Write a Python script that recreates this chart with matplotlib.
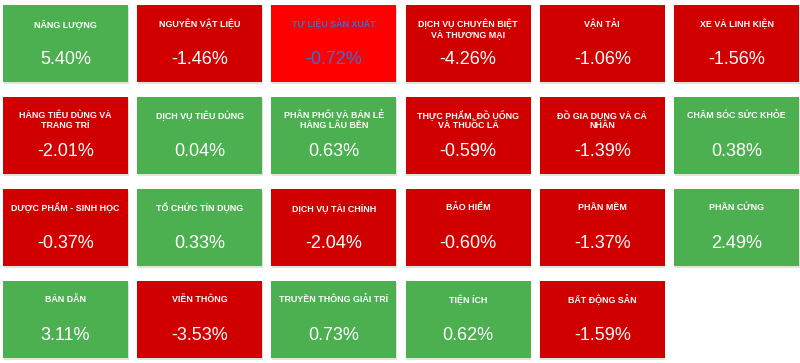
"""
Bản đồ nhiệt ngành — thay đổi % theo nhóm ngành (ô vuông xanh / đỏ).
"""

import matplotlib
matplotlib.use("Agg")

import matplotlib.pyplot as plt
from matplotlib.patches import Rectangle

plt.rcParams["font.family"] = ["Liberation Sans", "DejaVu Sans"]

SECTORS = [
    "NĂNG LƯỢNG", "NGUYÊN VẬT LIỆU", "TƯ LIỆU SẢN XUẤT",
    "DỊCH VỤ CHUYÊN BIỆT\nVÀ THƯƠNG MẠI", "VẬN TẢI", "XE VÀ LINH KIỆN",
    "HÀNG TIÊU DÙNG VÀ\nTRANG TRÍ", "DỊCH VỤ TIÊU DÙNG", "PHÂN PHỐI VÀ BÁN LẺ\nHÀNG LÂU BỀN",
    "THỰC PHẨM, ĐỒ UỐNG\nVÀ THUỐC LÁ", "ĐỒ GIA DỤNG VÀ CÁ\nNHÂN", "CHĂM SÓC SỨC KHỎE",
    "DƯỢC PHẨM - SINH HỌC", "TỔ CHỨC TÍN DỤNG", "DỊCH VỤ TÀI CHÍNH",
    "BẢO HIỂM", "PHẦN MỀM", "PHẦN CỨNG",
    "BÁN DẪN", "VIỄN THÔNG", "TRUYỀN THÔNG GIẢI TRÍ",
    "TIỆN ÍCH", "BẤT ĐỘNG SẢN",
]
CHANGES = [
    5.40, -1.46, -0.72, -4.26, -1.06, -1.56,
    -2.01, 0.04, 0.63, -0.59, -1.39, 0.38,
    -0.37, 0.33, -2.04, -0.60, -1.37, 2.49,
    3.11, -3.53, 0.73, 0.62, -1.59,
]
# ô đang được chọn (hover) trong ảnh gốc
HIGHLIGHT = 2

GREEN = "#4caf50"
RED = "#d10000"
HL_RED = "#ff0000"
HL_TEXT = "#3d6fd0"

N_COLS = 6
TILE_W, TILE_H = 125, 77
PITCH_X, PITCH_Y = 134.2, 92
X0, Y0 = 3, 5

fig = plt.figure(figsize=(8, 3.63), dpi=100)
ax = fig.add_axes([0, 0, 1, 1])
ax.set_xlim(0, 800)
ax.set_ylim(363, 0)
ax.axis("off")

for i, (name, chg) in enumerate(zip(SECTORS, CHANGES)):
    row, col = divmod(i, N_COLS)
    x = X0 + col * PITCH_X
    y = Y0 + row * PITCH_Y

    if i == HIGHLIGHT:
        face, txt = HL_RED, HL_TEXT
    else:
        face, txt = (GREEN if chg >= 0 else RED), "white"

    # ombre légère sous la tuile
    ax.add_patch(Rectangle((x + 0.5, y + 1.5), TILE_W, TILE_H, facecolor="#cfcfcf",
                           edgecolor="none", alpha=0.6, zorder=1))
    ax.add_patch(Rectangle((x, y), TILE_W, TILE_H, facecolor=face,
                           edgecolor="none", zorder=2))

    for k, line in enumerate(name.split("\n")):
        ax.text(x + TILE_W / 2, y + 19 + k * 10, line, ha="center", va="center",
                fontsize=6.4, fontweight="bold", color=txt, zorder=3)

    ax.text(x + TILE_W / 2, y + 54, f"{chg:.2f}%", ha="center", va="center",
            fontsize=13, color=txt, zorder=3)

fig.savefig("out.png", dpi=100)
plt.close(fig)
